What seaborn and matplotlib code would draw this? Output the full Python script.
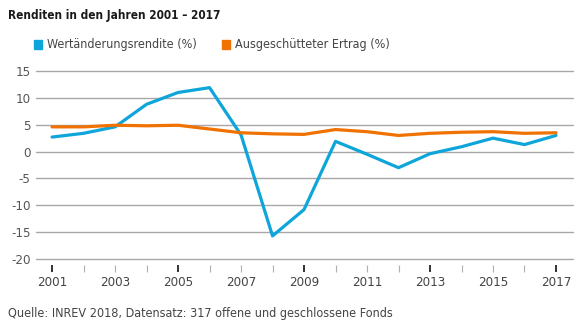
import matplotlib
matplotlib.use("Agg")
import matplotlib.pyplot as plt
import seaborn as sns
import pandas as pd
from matplotlib.patches import Rectangle

years = list(range(2001, 2018))
wertaenderung = [2.7, 3.4, 4.6, 8.8, 11.0, 11.9, 3.1, -15.7, -10.8, 1.9, -0.5, -3.0, -0.4, 0.9, 2.5, 1.3, 3.0]
ertrag = [4.6, 4.6, 4.9, 4.8, 4.9, 4.2, 3.5, 3.3, 3.2, 4.1, 3.7, 3.0, 3.4, 3.6, 3.7, 3.4, 3.5]
series_names = ["Wertänderungsrendite (%)", "Ausgeschütteter Ertrag (%)"]
colors = ["#0ea5da", "#ef7203"]
y_ticks = [15, 10, 5, 0, -5, -10, -15, -20]

sns.set_theme(style="white")
plt.rcParams['font.family'] = ['DejaVu Sans']
plt.rcParams['font.stretch'] = 'condensed'

df = pd.DataFrame({
    "Jahr": years * 2,
    "Wert": wertaenderung + ertrag,
    "Serie": [series_names[0]] * len(years) + [series_names[1]] * len(years),
})

fig = plt.figure(figsize=(5.86, 3.30), dpi=100)
ax = fig.add_axes([36/586, 1-259/330, (573-36)/586, (259-71)/330])

sns.lineplot(data=df, x="Jahr", y="Wert", hue="Serie", palette=colors,
             linewidth=2.3, ax=ax, legend=False, zorder=3)

ax.set_xlim(2000.49, 2017.54)
ax.set_ylim(-20, 15)
ax.set_yticks(y_ticks)
ax.set_yticklabels([str(t) for t in y_ticks])
ax.grid(axis="y", color="#a8a8a8", linewidth=1)
for gl in ax.get_ygridlines():
    gl.set_clip_on(False)
ax.grid(axis="x", visible=False)
for s in ["top", "right", "left"]:
    ax.spines[s].set_visible(False)
ax.spines["bottom"].set_position(("outward", 4.5))
ax.spines["bottom"].set_visible(False)

black_years = [y for y in years if (y - 2001) % 4 == 0]
gray_years = [y for y in years if (y - 2001) % 4 != 0]
ax.set_xticks(black_years, labels=[str(y) for y in black_years])
ax.set_xticks(gray_years, labels=[str(y) if y % 2 == 1 else "" for y in gray_years], minor=True)
ax.tick_params(axis="x", which="major", length=5, width=1.2, color="#111111",
               direction="out", labelsize=9.5, labelcolor="#444444", pad=2.5, bottom=True)
ax.tick_params(axis="x", which="minor", length=5, width=0.8, color="#b0b0b0",
               direction="out", labelsize=9.5, labelcolor="#444444", pad=2.5, bottom=True)
ax.tick_params(axis="y", length=0, labelsize=9.5, labelcolor="#555555", pad=4)
ax.set_xlabel("")
ax.set_ylabel("")

fig.text(8/586, 1-15/330, "Renditen in den Jahren 2001 – 2017", fontsize=8.5,
         fontweight="bold", color="#1a1a1a", va="center", ha="left")

# legend
lx = [34, 222]
for x0, name, c in zip(lx, series_names, colors):
    fig.patches.append(Rectangle((x0/586, 1-48.5/330), 8/586, 8/330,
                                 transform=fig.transFigure, color=c, figure=fig))
    fig.text((x0+13)/586, 1-44.5/330, name, fontsize=9, color="#444444",
             va="center", ha="left")

fig.text(8/586, 1-313/330, "Quelle: INREV 2018, Datensatz: 317 offene und geschlossene Fonds",
         fontsize=9, color="#444444", va="center", ha="left")

fig.savefig("out.png", dpi=100)
